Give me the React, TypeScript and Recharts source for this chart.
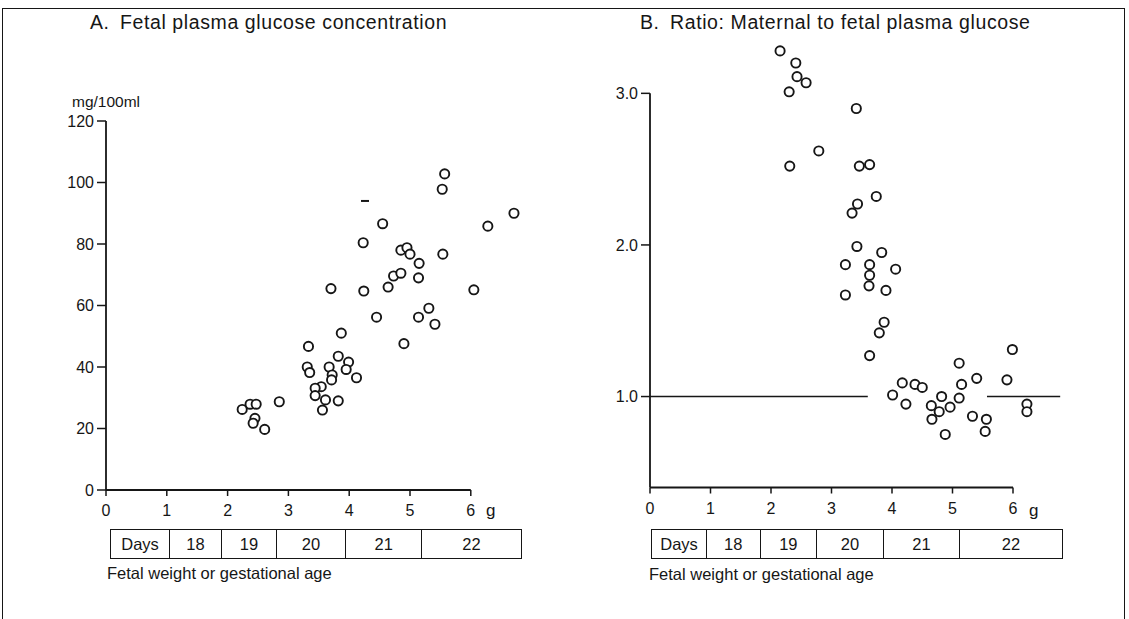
import React from "react";
import { ScatterChart, Scatter, XAxis, YAxis, ReferenceLine } from "recharts";

// Panel A: fetal plasma glucose (mg/100ml) vs fetal weight (g)
const glucoseWeight = [
  5.57, 5.53, 6.71, 6.28, 4.55, 4.23, 4.85, 4.95, 5.0, 5.54, 5.15, 4.73, 4.85, 5.14, 4.64, 3.7,
  4.24, 6.05, 4.45, 5.14, 5.31, 5.41, 4.9, 3.87, 3.33, 3.82, 3.99, 3.95, 3.31, 3.35, 3.67, 3.72,
  3.71, 4.12, 3.54, 3.44, 3.44, 3.61, 3.82, 3.56, 2.85, 2.24, 2.37, 2.47, 2.45, 2.42, 2.61,
];
const glucoseConc = [
  102.8, 97.8, 90, 85.8, 86.6, 80.4, 78, 78.8, 76.7, 76.7, 73.7, 69.6, 70.5, 69, 66, 65.5,
  64.7, 65.1, 56.2, 56.2, 59.1, 53.9, 47.6, 51, 46.7, 43.5, 41.6, 39.2, 40, 38.2, 40, 37.4,
  35.8, 36.5, 33.6, 33.1, 30.7, 29.3, 29, 26, 28.7, 26.2, 27.9, 27.9, 23.3, 21.7, 19.7,
];
const strayMarkA = [{ w: 4.26, v: 94 }];

// Panel B: maternal to fetal glucose ratio vs fetal weight (g)
const ratioWeight = [
  2.15, 2.41, 2.43, 2.58, 2.3, 3.41, 2.79, 2.31, 3.46, 3.63, 3.74, 3.43, 3.34, 3.42, 3.83, 3.23,
  3.63, 4.06, 3.63, 3.62, 3.9, 3.23, 3.87, 3.79, 3.63, 5.99, 5.11, 5.4, 5.9, 4.17, 4.38, 4.5,
  5.15, 4.01, 4.82, 5.11, 4.23, 4.65, 4.96, 4.78, 6.23, 6.23, 4.66, 5.33, 5.56, 4.88, 5.54,
];
const ratioValue = [
  3.28, 3.2, 3.11, 3.07, 3.01, 2.9, 2.62, 2.52, 2.52, 2.53, 2.32, 2.27, 2.21, 1.99, 1.95, 1.87,
  1.87, 1.84, 1.8, 1.73, 1.7, 1.67, 1.49, 1.42, 1.27, 1.31, 1.22, 1.12, 1.11, 1.09, 1.08, 1.06,
  1.08, 1.01, 1.0, 0.99, 0.95, 0.94, 0.93, 0.9, 0.95, 0.9, 0.85, 0.87, 0.85, 0.75, 0.77,
];

const weightTicks = [0, 1, 2, 3, 4, 5, 6];
const glucoseTicks = [0, 20, 40, 60, 80, 100, 120];
const ratioTicks = [1, 2, 3];
const unitySegments = [
  [0, 3.6],
  [5.57, 6.78],
];

// gestational day bands along the weight axis
const dayLabels = ["Days", "18", "19", "20", "21", "22"];
const dayBoundsA = [0.07, 1.05, 1.91, 2.81, 3.95, 5.2, 6.84];
const dayBoundsB = [0.02, 0.94, 1.83, 2.76, 3.87, 5.12, 6.83];

const glucoseData = glucoseWeight.map((w, i) => ({ w, v: glucoseConc[i] }));
const ratioData = ratioWeight.map((w, i) => ({ w, v: ratioValue[i] }));

const FONT = "'Liberation Sans', Arial, sans-serif";
const INK = "#161616";
const tickStyle = { fill: INK, fontSize: 16, fontFamily: FONT };

const OpenCircle = (props: any) => (
  <circle cx={props.cx} cy={props.cy} r={4.6} fill="#fff" stroke={INK} strokeWidth={1.9} />
);
const Dash = (props: any) => (
  <line x1={props.cx - 4} x2={props.cx + 4} y1={props.cy} y2={props.cy} stroke={INK} strokeWidth={2} />
);

function DaysTable({ left, unit, bounds }: { left: number; unit: number; bounds: number[] }) {
  return (
    <>
      {dayLabels.map((lab, i) => {
        const x0 = left + bounds[i] * unit;
        const x1 = left + bounds[i + 1] * unit;
        return (
          <div
            key={lab}
            style={{
              position: "absolute",
              left: x0,
              top: 529,
              width: x1 - x0,
              height: 30,
              boxSizing: "border-box",
              border: `1.5px solid ${INK}`,
              borderLeftWidth: i === 0 ? 1.5 : 0,
              display: "flex",
              alignItems: "center",
              justifyContent: "center",
              fontSize: 16.5,
              color: INK,
            }}
          >
            {lab}
          </div>
        );
      })}
    </>
  );
}

const abs = (left: number, top: number, extra: React.CSSProperties = {}): React.CSSProperties => ({
  position: "absolute",
  left,
  top,
  color: INK,
  whiteSpace: "nowrap",
  ...extra,
});

const titleStyle: React.CSSProperties = { fontSize: 19.5, letterSpacing: 0.6 };

export default function App() {
  return (
    <div
      style={{
        position: "absolute",
        left: 0,
        top: 0,
        width: 1129,
        height: 619,
        background: "#fff",
        fontFamily: FONT,
        overflow: "hidden",
      }}
    >
      {/* frame */}
      <div style={{ position: "absolute", left: 2, top: 8, width: 1121, height: 640, borderTop: `1.5px solid ${INK}`, borderLeft: `1.5px solid ${INK}`, borderRight: `1.5px solid ${INK}` }} />

      {/* titles */}
      <div style={abs(90, 11, titleStyle)}>A.</div>
      <div style={abs(120, 11, titleStyle)}>Fetal plasma glucose concentration</div>
      <div style={abs(640, 11, titleStyle)}>B.</div>
      <div style={abs(670, 11, titleStyle)}>Ratio: Maternal to fetal plasma glucose</div>
      <div style={abs(72, 93, { fontSize: 15.5 })}>mg/100ml</div>

      {/* Panel A */}
      <div style={{ position: "absolute", left: 0, top: 0 }}>
        <ScatterChart width={560} height={619} margin={{ top: 121, right: 28.4, bottom: 99, left: 66 }}>
          <XAxis
            type="number"
            dataKey="w"
            domain={[0, 7]}
            ticks={weightTicks}
            interval={0}
            axisLine={false}
            tickLine={{ stroke: INK, strokeWidth: 1.5 }}
            tickSize={6}
            tickMargin={9}
            height={30}
            tick={tickStyle}
          />
          <YAxis
            type="number"
            dataKey="v"
            domain={[0, 120]}
            ticks={glucoseTicks}
            interval={0}
            width={40}
            axisLine={{ stroke: INK, strokeWidth: 1.8 }}
            tickLine={{ stroke: INK, strokeWidth: 1.5 }}
            tickSize={9}
            tickMargin={3}
            tick={tickStyle}
          />
          <ReferenceLine segment={[{ x: 0, y: 0 }, { x: 6, y: 0 }]} stroke={INK} strokeWidth={1.8} />
          <Scatter data={strayMarkA} shape={Dash} isAnimationActive={false} />
          <Scatter data={glucoseData} shape={OpenCircle} isAnimationActive={false} />
        </ScatterChart>
      </div>
      <div style={abs(486, 501, { fontSize: 17 })}>g</div>
      <DaysTable left={106} unit={60.8} bounds={dayBoundsA} />
      <div style={abs(107, 564, { fontSize: 16.5 })}>Fetal weight or gestational age</div>

      {/* Panel B */}
      <div style={{ position: "absolute", left: 560, top: 0 }}>
        <ScatterChart width={569} height={619} margin={{ top: 32.7, right: 55.5, bottom: 101.5, left: 50 }}>
          <XAxis
            type="number"
            dataKey="w"
            domain={[0, 7]}
            ticks={weightTicks}
            interval={0}
            axisLine={false}
            tickLine={{ stroke: INK, strokeWidth: 1.5 }}
            tickSize={6}
            tickMargin={9}
            height={30}
            tick={tickStyle}
          />
          <YAxis
            type="number"
            dataKey="v"
            domain={[0.4, 3.4]}
            ticks={ratioTicks}
            interval={0}
            width={40}
            axisLine={false}
            tickLine={{ stroke: INK, strokeWidth: 1.5 }}
            tickSize={9}
            tickMargin={3}
            tick={tickStyle}
            tickFormatter={(t: number) => t.toFixed(1)}
          />
          <ReferenceLine segment={[{ x: 0, y: 0.4 }, { x: 6, y: 0.4 }]} stroke={INK} strokeWidth={1.8} />
          <ReferenceLine segment={[{ x: 0, y: 0.4 }, { x: 0, y: 3 }]} stroke={INK} strokeWidth={1.8} />
          {unitySegments.map(([a, b]) => (
            <ReferenceLine key={a} segment={[{ x: a, y: 1 }, { x: b, y: 1 }]} stroke={INK} strokeWidth={1.5} />
          ))}
          <Scatter data={ratioData} shape={OpenCircle} isAnimationActive={false} />
        </ScatterChart>
      </div>
      <div style={abs(1029, 501, { fontSize: 17 })}>g</div>
      <DaysTable left={650} unit={60.5} bounds={dayBoundsB} />
      <div style={abs(649, 565, { fontSize: 16.5 })}>Fetal weight or gestational age</div>
    </div>
  );
}
